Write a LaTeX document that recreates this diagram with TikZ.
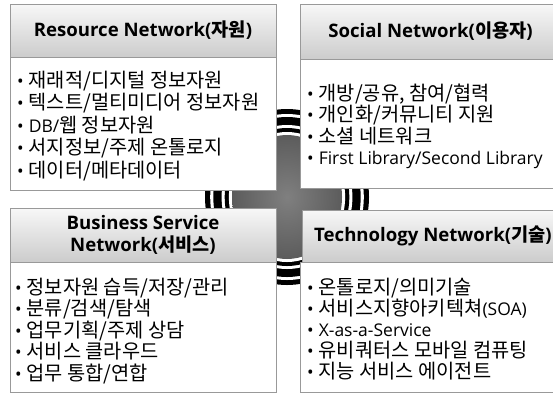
\documentclass[tikz,border=0pt]{standalone}
\usepackage{fontspec}
\setmainfont{Open Sans}
\newfontfamily\kr[Scale=1.13]{Noto Sans CJK KR}
\newfontfamily\krh[Scale=1.0]{Noto Sans CJK KR}
\newcommand\bul{•\hspace{5pt}}
\begin{document}
\begin{tikzpicture}[x=1pt,y=-1pt]
\tikzset{
 hdr/.style={draw=black!40, line width=0.8pt, top color=black!3, bottom color=black!20,
   font=\fontsize{18.6}{22}\selectfont\bfseries, align=center, inner sep=0pt},
 frame/.style={draw=black!40, line width=0.8pt, fill=white, inner sep=0pt},
 bodytext/.style={anchor=base west, align=left, inner sep=0pt},
 ring/.style={fill=black},
 gap/.style={fill=white}
}
\useasboundingbox (0,0) rectangle (553,394);
\clip (0,0) rectangle (553,394);
\fill[white] (0,0) rectangle (553,394);
% central ornament
\coordinate (c) at (287,197);
\fill[ring] (c) ellipse [x radius=82, y radius=88];
\fill[gap] (c) ellipse [x radius=76.8, y radius=83];
\fill[ring] (c) ellipse [x radius=73.7, y radius=80];
\fill[gap] (c) ellipse [x radius=65.4, y radius=72];
\fill[ring] (c) ellipse [x radius=62.3, y radius=69];
\fill[gap] (c) ellipse [x radius=58.1, y radius=65];
\shade[inner color=black!50, outer color=black!64] (c) ellipse [x radius=55, y radius=62];
% boxes
\node[frame, minimum width=266, minimum height=133] (tlb) at (143,123.5) {};
\node[hdr, minimum width=266, minimum height=53] (tlh) at (143,30.5) {Resource Network({\krh 자원})};
\node[frame, minimum width=261, minimum height=129] (trb) at (430.5,123.5) {};
\node[hdr, minimum width=261, minimum height=55] (trh) at (430.5,31.5) {Social Network({\krh 이용자})};
\node[frame, minimum width=266, minimum height=130] (blb) at (143,327) {};
\node[hdr, minimum width=266, minimum height=54] (blh) at (143,235) {Business Service\\Network({\krh 서비스})};
\node[frame, minimum width=261, minimum height=130] (brb) at (430.5,327) {};
\node[hdr, minimum width=261, minimum height=52] (brh) at (433,236) {Technology Network({\krh 기술})};
% texts (base anchor = baseline of the last line)
\node[bodytext, font=\fontsize{17.5}{22.5}\selectfont] (tlt) at (17,177) {%
\bul{\kr 재래적/디지털 정보자원}\\
\bul{\kr 텍스트/멀티미디어 정보자원}\\
\bul DB/{\kr 웹 정보자원}\\
\bul{\kr 서지정보/주제 온톨로지}\\
\bul{\kr 데이터/메타데이터}};
\node[bodytext, font=\fontsize{17.5}{21.5}\selectfont] (trt) at (307,164.5) {%
\bul{\kr 개방/공유, 참여/협력}\\
\bul{\kr 개인화/커뮤니티 지원}\\
\bul{\kr 소셜 네트워크}\\
\bul First Library/Second Library};
\node[bodytext, font=\fontsize{17.5}{21.5}\selectfont] (blt) at (15,380) {%
\bul{\kr 정보자원 습득/저장/관리}\\
\bul{\kr 분류/검색/탐색}\\
\bul{\kr 업무기획/주제 상담}\\
\bul{\kr 서비스 클라우드}\\
\bul{\kr 업무 통합/연합}};
\node[bodytext, font=\fontsize{17.5}{21}\selectfont] (brt) at (307,378) {%
\bul{\kr 온톨로지/의미기술}\\
\bul{\kr 서비스지향아키텍쳐}(SOA)\\
\bul X-as-a-Service\\
\bul{\kr 유비쿼터스 모바일 컴퓨팅}\\
\bul{\kr 지능 서비스 에이전트}};
\end{tikzpicture}
\end{document}
